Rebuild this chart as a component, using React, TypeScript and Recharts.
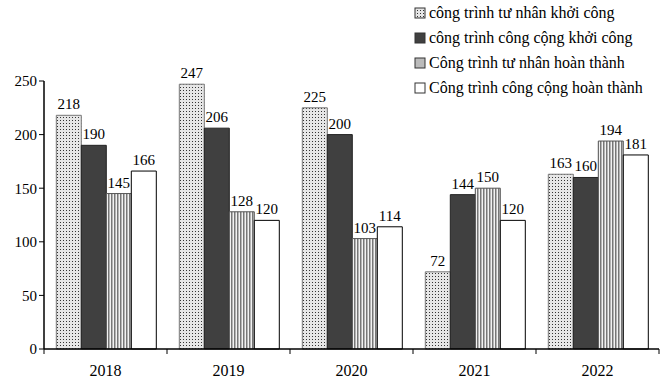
import { Bar, BarChart, LabelList, XAxis, YAxis } from "recharts";

const years = ["2018", "2019", "2020", "2021", "2022"];
const privateStarted = [218, 247, 225, 72, 163];
const publicStarted = [190, 206, 200, 144, 160];
const privateDone = [145, 128, 103, 150, 194];
const publicDone = [166, 120, 114, 120, 181];
const yTicks = [0, 50, 100, 150, 200, 250];

const seriesNames = [
  "công trình tư nhân khởi công",
  "công trình công cộng khởi công",
  "Công trình tư nhân hoàn thành",
  "Công trình công cộng hoàn thành",
];

const data = years.map((year, i) => ({
  year,
  a: privateStarted[i],
  b: publicStarted[i],
  c: privateDone[i],
  d: publicDone[i],
}));

const FONT = "'Liberation Serif', 'Times New Roman', serif";
const fills = ["url(#dots)", "#404040", "url(#stripes)", "#ffffff"];
const strokes = ["#777", "#222", "#555", "#000"];

const PLOT_LEFT = 44;
const PLOT_RIGHT = 11;
const HALF_BAND = (670 - PLOT_LEFT - PLOT_RIGHT) / years.length / 2;

function YearTick(props: any) {
  const { x, y, payload, index } = props;
  return (
    <g>
      <line x1={x - HALF_BAND} y1={y - 8} x2={x - HALF_BAND} y2={y - 3} stroke="#000" />
      {index === years.length - 1 && (
        <line x1={x + HALF_BAND} y1={y - 8} x2={x + HALF_BAND} y2={y - 3} stroke="#000" />
      )}
      <text x={x} y={y + 19} textAnchor="middle" fontSize={16} fontFamily={FONT} fill="#000">
        {payload.value}
      </text>
    </g>
  );
}

function LegendBox() {
  return (
    <div
      style={{
        position: "absolute",
        left: 414,
        top: 0,
        fontFamily: FONT,
        fontSize: 16,
        color: "#000",
        lineHeight: "25px",
        whiteSpace: "nowrap",
      }}
    >
      {seriesNames.map((name, i) => (
        <div key={name} style={{ display: "flex", alignItems: "center" }}>
          <svg width={13} height={12} style={{ marginRight: 2 }}>
            <defs>
              <pattern id={`ld${i}`} width={3} height={3} patternUnits="userSpaceOnUse">
                <rect width={3} height={3} fill="#e6e6e6" />
                <rect x={0} y={0} width={1} height={1} fill="#333" />
              </pattern>
            </defs>
            <rect
              x={1}
              y={1}
              width={10}
              height={10}
              fill={i === 0 ? `url(#ld${i})` : i === 2 ? "#bbb" : fills[i]}
              stroke="#333"
              strokeWidth={1}
            />
          </svg>
          <span>{name}</span>
        </div>
      ))}
    </div>
  );
}

export default function App() {
  return (
    <div style={{ position: "absolute", left: 0, top: 0, width: 670, height: 387, background: "#fff", fontFamily: FONT }}>
      <BarChart
        width={670}
        height={387}
        data={data}
        margin={{ top: 81, right: PLOT_RIGHT, left: 0, bottom: 8 }}
        barCategoryGap="10%"
        barGap={0}
        style={{ fontFamily: FONT }}
      >
        <defs>
          <pattern id="dots" width={3} height={3} patternUnits="userSpaceOnUse">
            <rect width={3} height={3} fill="#e6e6e6" />
            <rect x={0} y={0} width={1} height={1} fill="#333" />
          </pattern>
          <pattern id="stripes" width={3} height={4} patternUnits="userSpaceOnUse">
            <rect width={3} height={4} fill="#f2f2f2" />
            <rect x={0} y={0} width={1.5} height={4} fill="#777" />
          </pattern>
        </defs>
        <XAxis
          dataKey="year"
          height={30}
          axisLine={{ stroke: "#000", strokeWidth: 1.5 }}
          tickLine={false}
          tick={<YearTick />}
          interval={0}
        />
        <YAxis
          width={PLOT_LEFT}
          domain={[0, 250]}
          ticks={yTicks}
          axisLine={{ stroke: "#000", strokeWidth: 1.5 }}
          tickLine={{ stroke: "#000" }}
          tickSize={5}
          tick={{ fontSize: 15, fontFamily: FONT, fill: "#000" }}
        />
        {(["a", "b", "c", "d"] as const).map((key, i) => (
          <Bar
            key={key}
            dataKey={key}
            name={seriesNames[i]}
            fill={fills[i]}
            stroke={strokes[i]}
            strokeWidth={1}
            isAnimationActive={false}
          >
            <LabelList
              dataKey={key}
              position="top"
              offset={6}
              fontSize={15}
              fontFamily={FONT}
              fill="#000"
            />
          </Bar>
        ))}
      </BarChart>
      <LegendBox />
    </div>
  );
}
